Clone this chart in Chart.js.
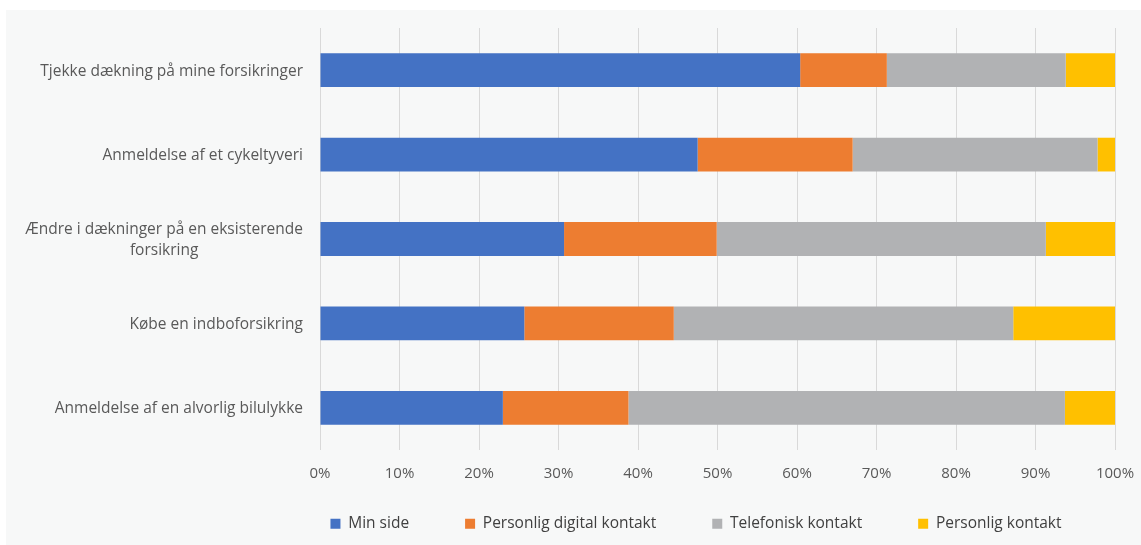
<!DOCTYPE html>
<html lang="da">
<head>
<meta charset="utf-8">
<title>Kontaktkanaler</title>
<script src="https://cdn.jsdelivr.net/npm/chart.js@4"></script>
<style>
  html, body { margin: 0; padding: 0; background: #ffffff; }
  #panel {
    position: absolute; left: 6px; top: 10px;
    width: 1135px; height: 535px;
    background: #f7f8f8;
  }
</style>
</head>
<body>
<div id="panel"><canvas id="channelChart" width="1135" height="535"></canvas></div>
<script>
const categories = [
  ["Tjekke dækning på mine forsikringer"],
  ["Anmeldelse af et cykeltyveri"],
  ["Ændre i dækninger på en eksisterende", "forsikring"],
  ["Købe en indboforsikring"],
  ["Anmeldelse af en alvorlig bilulykke"]
];
const seriesNames = ["Min side", "Personlig digital kontakt", "Telefonisk kontakt", "Personlig kontakt"];
const minSide    = [60.4, 47.5, 30.7, 25.7, 23.0];
const digital    = [10.9, 19.5, 19.2, 18.8, 15.8];
const telefonisk = [22.5, 30.8, 41.4, 42.7, 54.9];
const personlig  = [6.2, 2.2, 8.7, 12.8, 6.3];
const xTicks = [0, 10, 20, 30, 40, 50, 60, 70, 80, 90, 100];

const colors = ["#4472c4", "#ed7d31", "#b1b2b4", "#ffc000"];
const FONT = "'Open Sans', 'Noto Sans', sans-serif";

/* axis labels drawn by hand: categories as a right-aligned block with
   centred lines, percentages under each gridline */
const axisLabels = {
  id: "axisLabels",
  afterDraw(chart) {
    const { ctx, chartArea } = chart;
    const yScale = chart.scales.y;
    const xScale = chart.scales.x;
    ctx.save();
    ctx.fillStyle = "#595959";
    ctx.textAlign = "center";
    ctx.textBaseline = "middle";

    ctx.font = "15.5px " + FONT;
    const lineH = 21;
    categories.forEach((lines, i) => {
      const y = yScale.getPixelForTick(i);
      const w = Math.max(...lines.map(l => ctx.measureText(l).width));
      const cx = chartArea.left - 17 - w / 2;
      const y0 = y - (lines.length - 1) * lineH / 2 + 1;
      lines.forEach((l, k) => ctx.fillText(l, cx, y0 + k * lineH));
    });

    ctx.font = "15px " + FONT;
    xTicks.forEach(v => {
      ctx.fillText(v + "%", xScale.getPixelForValue(v), chartArea.bottom + 24);
    });
    ctx.restore();
  }
};

const values = [minSide, digital, telefonisk, personlig];

new Chart(document.getElementById("channelChart"), {
  type: "bar",
  data: {
    labels: categories.map(c => c.join(" ")),
    datasets: seriesNames.map((name, i) => ({
      label: name,
      data: values[i],
      backgroundColor: colors[i],
      borderWidth: 0,
      barPercentage: 0.4,
      categoryPercentage: 1
    }))
  },
  options: {
    indexAxis: "y",
    responsive: false,
    animation: false,
    layout: { padding: { left: 245, right: 0, top: 18, bottom: 3.5 } },
    scales: {
      x: {
        stacked: true,
        min: 0, max: 100,
        afterBuildTicks: s => { s.ticks = xTicks.map(v => ({ value: v })); },
        afterFit: s => { s.height = 10; s.paddingLeft = 0; s.paddingRight = 26; },
        grid: { color: "#d9d9d9", drawTicks: false },
        border: { display: false },
        ticks: { display: false }
      },
      y: {
        stacked: true,
        afterFit: s => { s.width = 69; },
        grid: { display: false },
        border: { display: false },
        ticks: { display: false }
      }
    },
    plugins: {
      tooltip: { enabled: false },
      legend: {
        position: "bottom",
        labels: {
          boxWidth: 10,
          boxHeight: 10,
          padding: 56,
          color: "#404040",
          font: { family: FONT, size: 15.5 }
        }
      }
    }
  },
  plugins: [axisLabels]
});
</script>
</body>
</html>
